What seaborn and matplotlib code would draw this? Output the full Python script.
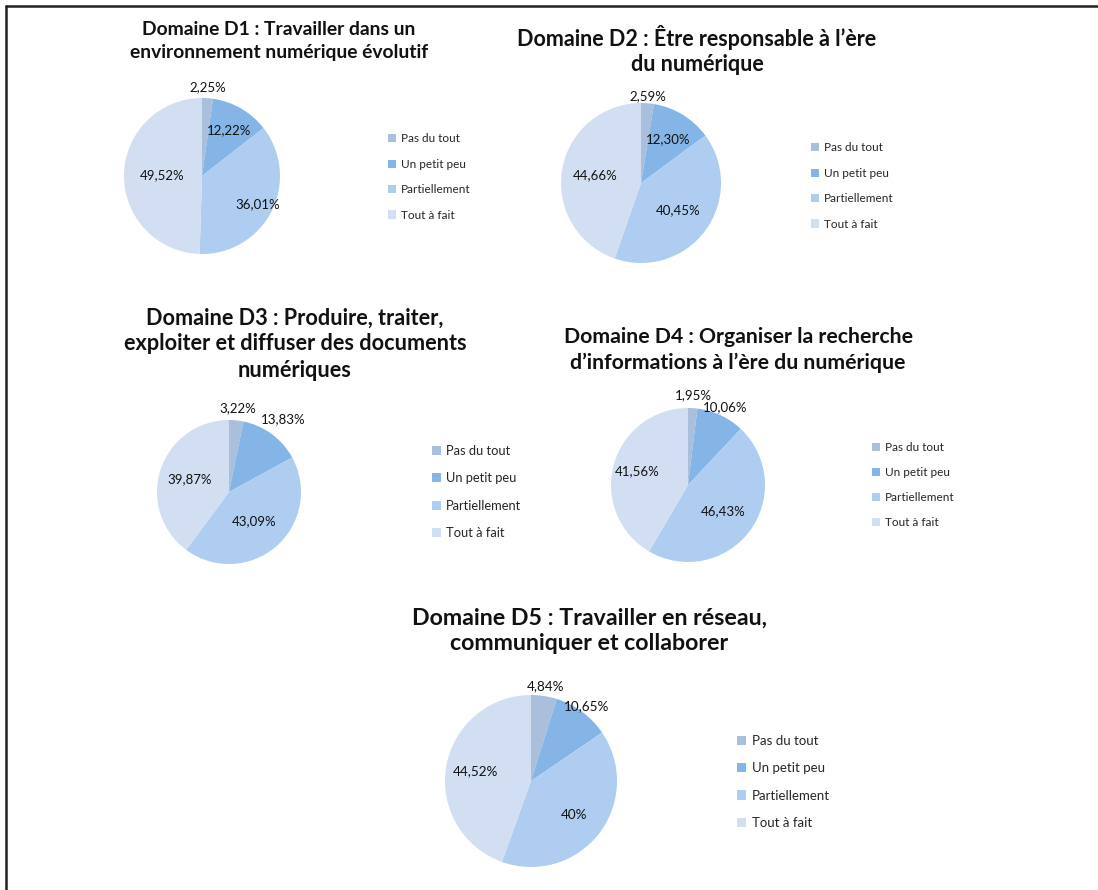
import matplotlib
matplotlib.use("Agg")
import numpy as np
import matplotlib.pyplot as plt
import seaborn as sns
from matplotlib.lines import Line2D

# ---------------- data ----------------
categories = ["Pas du tout", "Un petit peu", "Partiellement", "Tout à fait"]

title_d1 = "Domaine D1 : Travailler dans un\nenvironnement numérique évolutif"
title_d2 = "Domaine D2 : Être responsable à l’ère\ndu numérique"
title_d3 = "Domaine D3 : Produire, traiter,\nexploiter et diffuser des documents\nnumériques"
title_d4 = "Domaine D4 : Organiser la recherche\nd’informations à l’ère du numérique"
title_d5 = "Domaine D5 : Travailler en réseau,\ncommuniquer et collaborer"

values_d1 = [2.25, 12.22, 36.01, 49.52]
values_d2 = [2.59, 12.30, 40.45, 44.66]
values_d3 = [3.22, 13.83, 43.09, 39.87]
values_d4 = [1.95, 10.06, 46.43, 41.56]
values_d5 = [4.84, 10.65, 40.00, 44.52]

# ---------------- style ----------------
sns.set_theme(style="white")
plt.rcParams["font.family"] = ["Lato", "DejaVu Sans"]

palette = sns.color_palette(["#a9bfdb", "#85b4e7", "#afcdf1", "#d2dff2"])

W, H = 1098, 890
fig = plt.figure(figsize=(W / 100, H / 100), dpi=100)
fig.patch.set_facecolor("white")

# layout in pixels: pie centre, radius, title centre, legend anchor, font sizes, label distances
layouts = [
    dict(values=values_d1, title=title_d1, cx=202, cy=176, r=78, tx=279, ty=41, tfs=13.9, ls=1.4,
         lx=388, ly=177, lfs=8.5, lsp=1.22, pfs=9.5, dist=[1.14, 0.68, 0.80, 0.51]),
    dict(values=values_d2, title=title_d2, cx=641, cy=183, r=80, tx=697, ty=50, tfs=15.5, ls=1.25,
         lx=811, ly=186, lfs=8.5, lsp=1.22, pfs=9.5, dist=[1.09, 0.64, 0.57, 0.58]),
    dict(values=values_d3, title=title_d3, cx=229, cy=492, r=72, tx=295, ty=344, tfs=15.6, ls=1.3,
         lx=432, ly=492, lfs=9.3, lsp=1.21, pfs=9.5, dist=[1.17, 1.26, 0.54, 0.58]),
    dict(values=values_d4, title=title_d4, cx=688, cy=485, r=77, tx=738, ty=350, tfs=15.3, ls=1.32,
         lx=872, ly=485, lfs=8.5, lsp=1.18, pfs=9.5, dist=[1.17, 1.12, 0.57, 0.69]),
    dict(values=values_d5, title=title_d5, cx=531, cy=781, r=86, tx=589, ty=631, tfs=16.7, ls=1.22,
         lx=737, ly=782, lfs=9.5, lsp=1.16, pfs=9.7, dist=[1.11, 1.08, 0.64, 0.66]),
]


def fmt(v):
    if abs(v - round(v)) < 1e-9:
        return f"{int(round(v))}%"
    return f"{v:.2f}".replace(".", ",") + "%"


for L in layouts:
    cx, cy, r = L["cx"], L["cy"], L["r"]
    ax = fig.add_axes([(cx - r) / W, 1 - (cy + r) / H, 2 * r / W, 2 * r / H])
    wedges, _ = ax.pie(L["values"], colors=palette, startangle=90, counterclock=False,
                       radius=1, wedgeprops=dict(linewidth=0))
    ax.set_xlim(-1, 1)
    ax.set_ylim(-1, 1)
    ax.set_aspect("equal")
    ax.axis("off")
    for w, v, d in zip(wedges, L["values"], L["dist"]):
        a = np.deg2rad((w.theta1 + w.theta2) / 2)
        ax.text(d * np.cos(a), d * np.sin(a), fmt(v), ha="center", va="center",
                fontsize=L["pfs"], color="#111111", clip_on=False)
    ax.legend(wedges, categories, loc="center left",
              bbox_to_anchor=(L["lx"] / W, 1 - L["ly"] / H), bbox_transform=fig.transFigure,
              frameon=False, fontsize=L["lfs"], handlelength=0.7, handleheight=0.7,
              handletextpad=0.4, labelspacing=L["lsp"], borderaxespad=0, borderpad=0)
    fig.text(L["tx"] / W, 1 - L["ty"] / H, L["title"], ha="center", va="center",
             fontsize=L["tfs"], fontweight="bold", linespacing=L["ls"], color="#111111")

# frame lines (left and top)
fig.add_artist(Line2D([5.5 / W, 5.5 / W], [0, 1 - 6 / H], transform=fig.transFigure,
                      color="#222222", linewidth=1.8))
fig.add_artist(Line2D([5.5 / W, 1], [1 - 6 / H, 1 - 6 / H], transform=fig.transFigure,
                      color="#222222", linewidth=1.8))

fig.savefig("out.png", dpi=100, facecolor="white")
